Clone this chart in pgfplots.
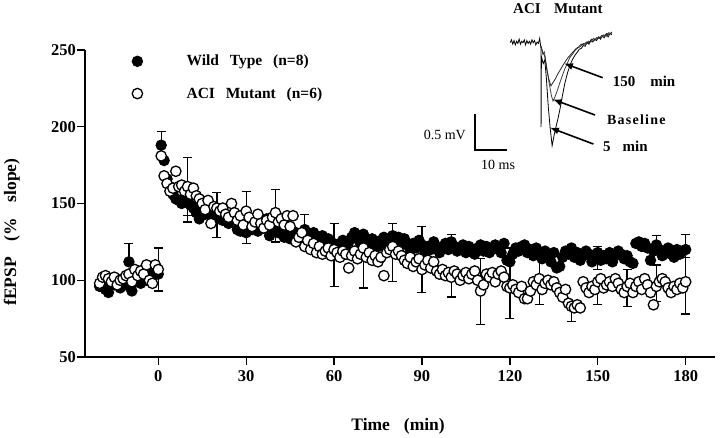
\documentclass[border=0pt]{standalone}
\usepackage{pgfplots}
\pgfplotsset{compat=1.18}
\usepackage{fontspec}
\setmainfont{Liberation Serif}
\usetikzlibrary{arrows.meta}
\newcommand\tkf{\fontsize{16.5}{18}\selectfont\bfseries}
\newcommand\lgf{\fontsize{15.5}{17}\selectfont\bfseries}
\newcommand\lbf{\fontsize{17.5}{19}\selectfont\bfseries}
\begin{document}
\begin{tikzpicture}
\path[use as bounding box] (0,0) rectangle (720pt,-438pt);
\begin{axis}[
  at={(85pt,-357pt)}, anchor=south west,
  scale only axis, width=630pt, height=307pt,
  xmin=-25, xmax=190, ymin=50, ymax=250,
  axis x line*=bottom, axis y line*=left,
  axis line style={line width=1.4pt},
  xtick={0,30,60,90,120,150,180},
  ytick={50,100,150,200,250},
  /pgf/number format/assume math mode=true,
  tick align=outside, major tick length=8pt,
  tick style={line width=1.3pt, black},
  ticklabel style={font=\tkf},
  yticklabel style={inner sep=1pt},
  xticklabel style={inner sep=1pt, yshift=-4pt},
  xlabel={Time\hspace{0.8em}(min)},
  ylabel={fEPSP\hspace{0.9em}(\%\hspace{0.9em}slope)},
  every axis x label/.style={at={(axis description cs:0.497,-0.225)}, anchor=center, font=\lbf},
  every axis y label/.style={at={(axis description cs:-0.116,0.407)}, anchor=center, rotate=90, font=\lbf},
  clip=false,
  legend style={at={(rel axis cs:0.0746,0.987)}, anchor=north west, draw=none, fill=none,
     inner sep=0pt, row sep=18pt, /tikz/column sep=43pt, font=\lgf, nodes={inner sep=1pt}},
  legend cell align=left,
  legend image code/.code={\draw[#1] plot coordinates {(0pt,0pt)};},
]
% error bars: wild type
\addplot[only marks, mark=none, black, forget plot,
  error bars/.cd, y dir=both, y explicit,
  error bar style={line width=1.3pt, black},
  error mark options={rotate=90, mark size=4.5pt, line width=1.3pt, black}]
coordinates {
(-10,112) += (0,12) -= (0,0)
(1,188) += (0,9) -= (0,9)
(10,151) += (0,0) -= (0,9)
(20,145) += (0,12) -= (0,0)
(50,133) += (0,10) -= (0,0)
(90,123) += (0,12) -= (0,0)
(100,125) += (0,5) -= (0,0)
(120,112) += (0,9) -= (0,0)
(150,115) += (0,7) -= (0,8)
(170,121) += (0,8) -= (0,0)
(180,120) += (0,10) -= (0,5)
};
% error bars: mutant
\addplot[only marks, mark=none, black, forget plot,
  error bars/.cd, y dir=both, y explicit,
  error bar style={line width=1.3pt, black},
  error mark options={rotate=90, mark size=4.5pt, line width=1.3pt, black}]
coordinates {
(0,107) += (0,14) -= (0,14)
(10,160) += (0,20) -= (0,22)
(20,143) += (0,14) -= (0,15)
(30,141) += (0,17) -= (0,17)
(40,142) += (0,17) -= (0,17)
(60,117) += (0,20) -= (0,21)
(70,118) += (0,0) -= (0,23)
(80,118) += (0,19) -= (0,19)
(90,110) += (0,0) -= (0,18)
(100,102) += (0,0) -= (0,13)
(110,93) += (0,21) -= (0,22)
(120,97) += (0,24) -= (0,22)
(130,99) += (0,15) -= (0,15)
(141,83) += (0,0) -= (0,10)
(150,99) += (0,0) -= (0,15)
(160,96) += (0,11) -= (0,13)
(170,96) += (0,14) -= (0,10)
(180,99) += (0,16) -= (0,21)
};
% Wild type
\addplot[only marks, mark=*, mark size=5.2pt, mark options={fill=black, draw=black, line width=1pt}]
coordinates {
(-20,96)(-19,99)(-18,94)(-17,92)(-16,100)(-15,97)(-14,98)(-13,95)(-12,101)(-11,97)(-10,112)(-9,93)(-8,99)(-7,101)(-6,98)(-5,103)(-4,100)(-3,104)(-2,102)(-1,106)(0,104)
(1,188)(2,178)(3,166)(4,161)(5,156)(6,153)(7,152)(8,150)(9,153)(10,151)(11,149)(12,147)(13,144)(14,140)(15,146)(16,143)(17,148)(18,144)(19,141)(20,145)(21,142)(22,139)(23,143)(24,137)(25,140)(26,141)(27,133)(28,132)(29,135)(30,131)(31,137)(32,133)(33,136)(34,132)(35,138)(36,134)(37,140)(38,129)(39,133)(40,137)(41,131)(42,133)(43,128)(44,131)(45,127)(46,129)(47,131)(48,126)(49,128)(50,133)(51,130)(52,127)(53,131)(54,125)(55,128)(56,129)(57,124)(58,127)(59,125)(60,122)(61,120)(62,124)(63,126)(64,121)(65,125)(66,128)(67,131)(68,127)(69,124)(70,130)(71,126)(72,123)(73,127)(74,125)(75,122)(76,126)(77,128)(78,124)(79,127)(80,129)(81,126)(82,128)(83,125)(84,127)(85,123)(86,120)(87,124)(88,121)(89,126)(90,123)(91,119)(92,122)(93,120)(94,125)(95,121)(96,118)(97,122)(98,124)(99,120)(100,125)(101,122)(102,119)(103,121)(104,123)(105,118)(106,122)(107,120)(108,117)(109,121)(110,123)(111,119)(112,122)(113,118)(114,120)(115,123)(116,121)(117,118)(118,124)(119,113)(120,112)(121,117)(122,121)(123,119)(124,122)(125,123)(126,118)(127,120)(128,116)(129,121)(130,117)(131,114)(132,119)(133,116)(134,112)(135,118)(136,108)(137,109)(138,115)(139,119)(140,117)(141,121)(142,115)(143,118)(144,113)(145,116)(146,119)(147,117)(148,112)(149,115)(150,118)(151,113)(152,116)(153,114)(154,118)(155,112)(156,116)(157,119)(158,117)(159,114)(160,116)(161,112)(162,111)(163,124)(164,125)(165,122)(166,124)(167,121)(168,113)(169,119)(170,123)(171,120)(172,116)(173,118)(174,121)(175,117)(176,115)(177,120)(178,117)(179,119)(180,120)
};
\addlegendentry{Wild\hspace{0.7em}Type\hspace{0.7em}(n=8)}
% ACI mutant
\addplot[only marks, mark=*, mark size=5.2pt, mark options={fill=white, draw=black, line width=1.3pt}]
coordinates {
(-20,98)(-19,102)(-18,103)(-17,101)(-16,99)(-15,102)(-14,97)(-13,100)(-12,101)(-11,103)(-10,104)(-9,99)(-8,107)(-7,103)(-6,106)(-5,104)(-4,110)(-3,100)(-2,98)(-1,110)(0,107)
(1,181)(2,168)(3,163)(4,158)(5,160)(6,171)(7,161)(8,162)(9,158)(10,161)(11,156)(12,160)(13,155)(14,153)(15,150)(16,146)(17,152)(18,137)(19,148)(20,147)(21,145)(22,147)(23,143)(24,141)(25,150)(26,144)(27,139)(28,142)(29,136)(30,145)(31,141)(32,135)(33,138)(34,143)(35,137)(36,134)(37,139)(38,136)(39,141)(40,144)(41,138)(42,140)(43,136)(44,142)(45,135)(46,142)(47,125)(48,128)(49,131)(50,122)(51,126)(52,120)(53,124)(54,118)(55,122)(56,117)(57,119)(58,121)(59,116)(60,120)(61,118)(62,115)(63,119)(64,117)(65,108)(66,116)(67,119)(68,114)(69,117)(70,121)(71,115)(72,118)(73,113)(74,116)(75,112)(76,115)(77,103)(78,118)(79,120)(80,122)(81,117)(82,119)(83,116)(84,113)(85,111)(86,115)(87,109)(88,112)(89,114)(90,107)(91,110)(92,113)(93,108)(94,112)(95,106)(96,104)(97,107)(98,103)(99,105)(100,102)(101,106)(102,104)(103,100)(104,103)(105,105)(106,101)(107,104)(108,106)(109,100)(110,93)(111,97)(112,104)(113,102)(114,105)(115,99)(116,104)(117,106)(118,102)(119,96)(120,95)(121,97)(122,94)(123,92)(124,96)(125,88)(126,88)(127,93)(128,99)(129,97)(130,101)(131,94)(132,98)(133,100)(134,97)(135,99)(136,95)(137,92)(138,89)(139,94)(140,85)(141,83)(142,82)(143,84)(144,82)(145,99)(146,95)(147,92)(148,96)(149,94)(150,99)(151,101)(152,95)(153,97)(154,99)(155,96)(156,101)(157,98)(158,94)(159,92)(160,96)(161,98)(162,92)(163,96)(164,99)(165,94)(166,101)(167,97)(168,92)(169,84)(170,96)(171,99)(172,101)(173,99)(174,95)(175,92)(176,96)(177,94)(178,98)(179,95)(180,99)
};
\addlegendentry{ACI\hspace{0.7em}Mutant\hspace{0.7em}(n=6)}
\end{axis}
% inset: field EPSP traces (x in ms, y in mV)
\begin{axis}[
  at={(411pt,-164.4pt)}, anchor=south west,
  scale only axis, width=208pt, height=144pt,
  xmin=-20, xmax=45, ymin=-0.2, ymax=1.8,
  hide axis, clip=false,
]
\addplot[black, line width=1.2pt] coordinates {(0,0.5)(0,0)(10,0)};
\addplot[black, line width=0.8pt] coordinates {
(11.0,1.49)(11.4,1.53)(11.8,1.47)(12.2,1.52)(12.6,1.46)(13.0,1.51)(13.4,1.48)(13.8,1.54)(14.2,1.47)(14.6,1.51)(15.0,1.49)(15.4,1.53)(15.8,1.46)(16.2,1.52)(16.6,1.48)(17.0,1.51)(17.4,1.47)(17.8,1.53)(18.2,1.49)(18.6,1.52)(19.0,1.46)(19.4,1.50)(19.8,1.48)(20.2,1.55)(20.5,1.45)
(20.6,1.42)(20.65,0.32)(20.75,1.30)
(21.3,1.20)(21.8,1.25)(22.3,1.00)(22.9,0.60)(23.5,0.30)(24.1,0.06)(24.7,0.20)(25.3,0.32)(26.0,0.45)(26.6,0.58)(27.3,0.75)(28.1,0.93)(28.9,1.07)(29.7,1.18)(30.5,1.26)(31.3,1.32)
(32.0,1.36)(32.6,1.40)(33.2,1.41)(33.8,1.45)(34.4,1.44)(35.0,1.49)(35.6,1.47)(36.2,1.52)(36.8,1.50)(37.4,1.54)(38.0,1.52)(38.6,1.57)(39.2,1.54)(39.8,1.58)(40.4,1.56)(41.0,1.61)(41.6,1.57)(42.2,1.62)(42.8,1.60)
};
\addplot[black!75, line width=0.8pt] coordinates {
(20.6,1.45)(21.2,1.33)(21.7,1.36)(22.4,1.15)(23.2,0.92)(23.9,0.75)(24.4,0.68)(25.0,0.74)(25.6,0.81)(26.4,0.92)(27.2,1.02)(28.0,1.12)(28.8,1.20)(29.6,1.28)(30.6,1.34)
(31.4,1.39)(32.2,1.42)(33.0,1.44)(33.8,1.48)(34.6,1.47)(35.4,1.51)(36.2,1.50)(37.0,1.55)(37.8,1.53)(38.6,1.57)(39.4,1.56)(40.2,1.60)(41.0,1.58)(41.8,1.63)(42.8,1.61)
};
\addplot[black!85, line width=0.8pt] coordinates {
(20.6,1.44)(21.2,1.36)(21.8,1.30)(22.4,1.12)(23.1,0.98)(23.75,0.89)(24.4,0.94)(25.0,0.98)(25.8,1.05)(26.6,1.11)(27.4,1.17)(28.1,1.22)(29.0,1.28)(29.8,1.32)(30.8,1.37)
(31.6,1.41)(32.4,1.43)(33.2,1.47)(34.0,1.46)(34.8,1.50)(35.6,1.49)(36.4,1.54)(37.2,1.52)(38.0,1.56)(38.8,1.55)(39.6,1.59)(40.4,1.58)(41.2,1.62)(42.0,1.60)(42.8,1.64)
};
\node[font=\fontsize{15}{17}\selectfont\bfseries] at (axis cs:25.9,1.965) {ACI\hspace{0.9em}Mutant};
\node[anchor=east, font=\fontsize{14}{16}\selectfont, inner sep=0pt] at (axis cs:-2.8,0.21) {0.5 mV};
\node[font=\fontsize{14}{16}\selectfont, inner sep=0pt] at (axis cs:7.2,-0.21) {10 ms};
\node[anchor=west, font=\fontsize{15}{17}\selectfont\bfseries, inner sep=0pt] at (axis cs:43.0,0.958) {150\hspace{1em}min};
\node[anchor=west, font=\fontsize{14}{16}\selectfont\bfseries\addfontfeature{LetterSpace=9}, inner sep=0pt] at (axis cs:41.2,0.426) {Baseline};
\node[anchor=west, font=\fontsize{15}{17}\selectfont\bfseries, inner sep=0pt] at (axis cs:40.0,0.046) {5\hspace{0.8em}min};
\draw[line width=1.6pt, -{Latex[length=9pt,width=7pt]}] (axis cs:39.9,1.004) -- (axis cs:27.8,1.204);
\draw[line width=1.6pt, -{Latex[length=9pt,width=7pt]}] (axis cs:37.5,0.486) -- (axis cs:24.3,0.704);
\draw[line width=1.6pt, -{Latex[length=9pt,width=7pt]}] (axis cs:37.0,0.083) -- (axis cs:23.4,0.31);
\end{axis}
\end{tikzpicture}
\end{document}
